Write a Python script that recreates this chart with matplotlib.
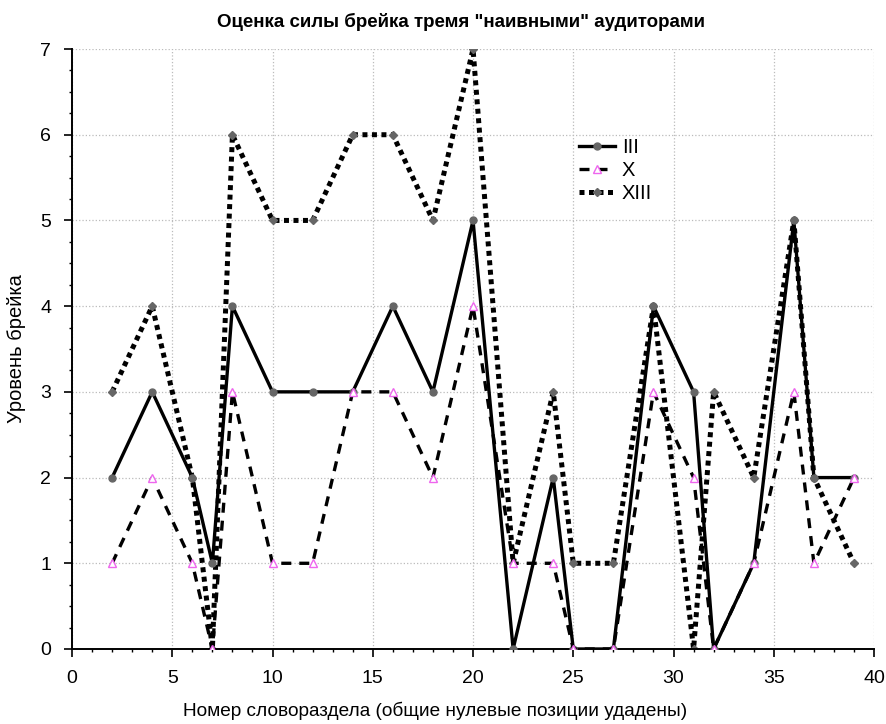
import matplotlib
matplotlib.use("Agg")
import matplotlib.pyplot as plt
from matplotlib.ticker import MultipleLocator

plt.rcParams["font.family"] = ["Liberation Sans", "DejaVu Sans"]

# word-boundary positions (zero positions removed)
pos = [2, 4, 6, 7, 8, 10, 12, 14, 16, 18, 20, 22, 24, 25, 27, 29, 31, 32, 34, 36, 37, 39]

# break level per listener
lvl_iii  = [2, 3, 2, 1, 4, 3, 3, 3, 4, 3, 5, 0, 2, 0, 0, 4, 3, 0, 1, 5, 2, 2]
lvl_x    = [1, 2, 1, 0, 3, 1, 1, 3, 3, 2, 4, 1, 1, 0, 0, 3, 2, 0, 1, 3, 1, 2]
lvl_xiii = [3, 4, 2, 0, 6, 5, 5, 6, 6, 5, 7, 1, 3, 1, 1, 4, 0, 3, 2, 5, 2, 1]

fig = plt.figure(figsize=(8.87, 7.24), dpi=100)
ax = fig.add_axes([0.0812, 0.1036, 0.9042, 0.8287])

ax.plot(pos, lvl_iii, color="black", lw=2.4, ls="-",
        marker="o", ms=5, mfc="#666666", mec="#666666", label="III", zorder=3)
ax.plot(pos, lvl_x, color="black", lw=2.4, ls=(0, (3, 2.4)),
        marker="^", ms=6, mfc="white", mec="#ee66ee", mew=1.0, label="X", zorder=4)
ax.plot(pos, lvl_xiii, color="black", lw=3.6, ls=(0, (1, 0.9)),
        marker="D", ms=4.5, mfc="#666666", mec="#666666", label="XIII", zorder=2)

ax.set_xlim(0, 40)
ax.set_ylim(0, 7)
ax.xaxis.set_major_locator(MultipleLocator(5))
ax.xaxis.set_minor_locator(MultipleLocator(1))
ax.yaxis.set_major_locator(MultipleLocator(1))
ax.yaxis.set_minor_locator(MultipleLocator(0.25))
ax.tick_params(which="major", direction="out", length=6, width=1.2)
ax.tick_params(which="minor", direction="out", length=2.5, width=1)
ax.tick_params(axis="x", which="major", labelsize=14, pad=9)
ax.tick_params(axis="y", which="major", labelsize=14, pad=9)
ax.grid(which="major", ls=":", color="#bbbbbb", lw=0.9)
ax.set_axisbelow(True)

for s in ("top", "right"):
    ax.spines[s].set_visible(False)
for s in ("left", "bottom"):
    ax.spines[s].set_linewidth(1.4)

fig.text(461 / 887, 1 - 27 / 724, 'Оценка силы брейка тремя "наивными" аудиторами',
         fontsize=13.5, fontweight="bold", ha="center", va="baseline")
ax.set_xlabel("Номер словораздела (общие нулевые позиции удадены)", fontsize=13.7)
ax.xaxis.set_label_coords(0.453, -0.088)
ax.set_ylabel("Уровень брейка", fontsize=14.5)
ax.yaxis.set_label_coords(-0.057, 0.5)

ax.legend(loc="upper left", bbox_to_anchor=(0.61, 0.882), frameon=False,
          fontsize=14.5, handlelength=1.75, handletextpad=0.35, labelspacing=0.2)

fig.savefig("out.png", dpi=100)
